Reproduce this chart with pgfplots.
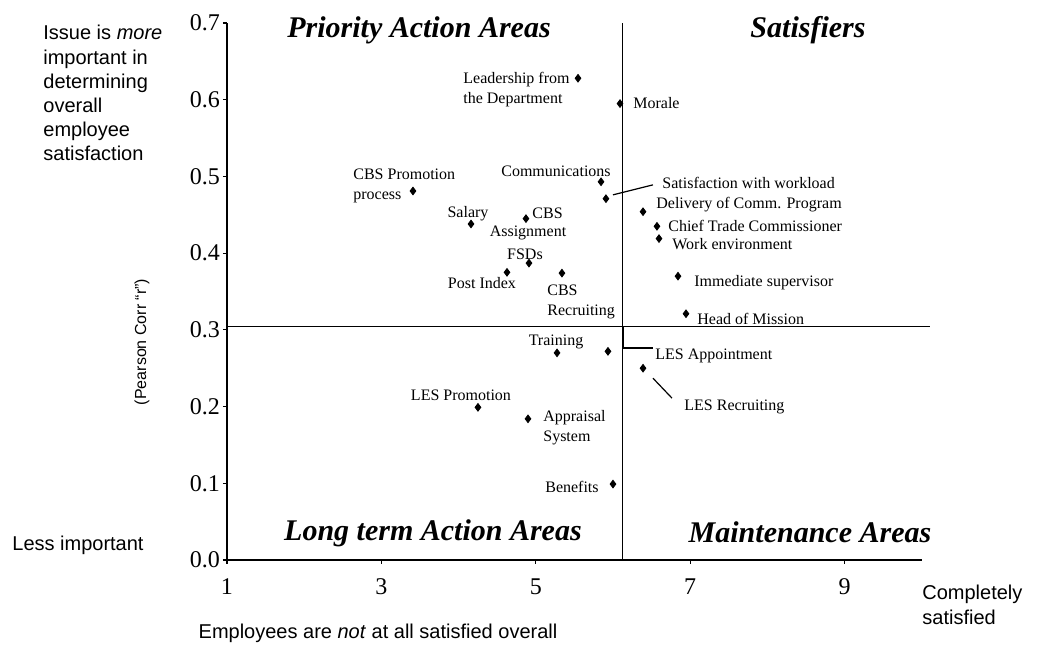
\documentclass[border=0pt]{standalone}
\usepackage{fontspec}
\setmainfont{Liberation Serif}
\newfontfamily\arial{Liberation Sans}
\usepackage{pgfplots}
\pgfplotsset{compat=1.18}
\begin{document}
\begin{tikzpicture}
\path[use as bounding box] (-113.5pt,-43pt) rectangle (406pt,280pt);
\begin{axis}[
  at={(0,0)}, anchor=south west,
  scale only axis, width=347.4pt, height=268.5pt,
  xmin=1, xmax=10, ymin=0, ymax=0.7,
  axis x line*=bottom, axis y line*=left,
  axis line style={line width=0.9pt},
  xtick={1,3,5,7,9}, ytick={0,0.1,0.2,0.3,0.4,0.5,0.6,0.7},
  tick align=outside, major tick length=2pt,
  tick style={line width=0.6pt, black},
  yticklabel style={/pgf/number format/fixed, /pgf/number format/precision=1, /pgf/number format/fixed zerofill, xshift=2pt},
  /pgf/number format/assume math mode=true,
  ticklabel style={font=\fontsize{12}{14}\selectfont},
  xticklabel style={yshift=-4pt},
  clip=false,
  label style={font=\arial},
]
% dividers
\addplot[black, line width=0.7pt] coordinates {(6.12,0) (6.12,0.7)};
\addplot[black, line width=0.7pt] coordinates {(1,0.304) (10.1,0.304)};
% leader lines
\addplot[black, line width=0.6pt] coordinates {(6.0,0.476) (6.518,0.489)};
\addplot[black, line width=0.6pt] coordinates {(6.135,0.304) (6.135,0.2764) (6.518,0.2764)};
\addplot[black, line width=0.6pt] coordinates {(6.518,0.237) (6.764,0.211)};
% points
\addplot[only marks, mark=diamond*, mark size=1.9pt, black] coordinates {
(5.547,0.628) (6.091,0.595) (3.409,0.481) (5.845,0.493) (5.909,0.471)
(6.389,0.454) (6.570,0.435) (6.596,0.419) (6.842,0.370) (6.946,0.321)
(4.873,0.445) (4.912,0.387) (4.627,0.375) (4.161,0.438) (5.339,0.374)
(5.275,0.270) (5.935,0.272) (6.389,0.250) (4.251,0.199) (4.899,0.184)
(6.000,0.099)
};
% quadrant titles
\begin{scope}[every node/.style={font=\fontsize{15}{18}\selectfont\bfseries\itshape, inner sep=0pt}]
\node at (axis cs:3.487,0.691) {Priority Action Areas};
\node at (axis cs:8.526,0.691) {Satisfiers};
\node at (axis cs:3.668,0.0352) {Long term Action Areas};
\node at (axis cs:8.552,0.0365) {Maintenance Areas};
\end{scope}
% point labels
\begin{scope}[every node/.style={font=\fontsize{8}{10}\selectfont, inner sep=0pt}]
\node[anchor=west, align=left] at (axis cs:4.057,0.613) {Leadership from\\the Department};
\node[anchor=west] at (axis cs:6.259,0.596) {Morale};
\node[anchor=west, align=left] at (axis cs:2.632,0.487) {CBS Promotion\\process};
\node at (axis cs:5.262,0.507) {Communications};
\node[anchor=west] at (axis cs:6.635,0.4915) {Satisfaction with workload};
\node[anchor=west] at (axis cs:6.557,0.463) {Delivery of Comm. Program};
\node[anchor=west] at (axis cs:6.712,0.436) {Chief Trade Commissioner};
\node[anchor=west] at (axis cs:6.764,0.412) {Work environment};
\node[anchor=west] at (axis cs:7.049,0.361) {Immediate supervisor};
\node[anchor=west] at (axis cs:7.088,0.314) {Head of Mission};
\node at (axis cs:4.122,0.452) {Salary};
\node[anchor=west] at (axis cs:4.951,0.452) {CBS};
\node at (axis cs:4.899,0.426) {Assignment};
\node at (axis cs:4.860,0.399) {FSDs};
\node at (axis cs:4.303,0.361) {Post Index};
\node[anchor=west, align=left] at (axis cs:5.145,0.336) {CBS\\Recruiting};
\node at (axis cs:5.262,0.284) {Training};
\node[anchor=west] at (axis cs:6.544,0.266) {LES Appointment};
\node[anchor=west] at (axis cs:6.92,0.1995) {LES Recruiting};
\node at (axis cs:4.031,0.215) {LES Promotion};
\node[anchor=west, align=left] at (axis cs:5.093,0.173) {Appraisal\\System};
\node at (axis cs:5.469,0.095) {Benefits};
\end{scope}
\end{axis}
% outside texts
\node[anchor=north west, align=left, inner sep=0pt, font=\arial\fontsize{10}{12.1}\selectfont] at (-92pt,267.5pt)
  {Issue is \textit{more}\\important in\\determining\\overall\\employee\\satisfaction};
\node[anchor=west, inner sep=0pt, font=\arial\fontsize{10}{12}\selectfont] at (-107.5pt,7.5pt) {Less important};
\node[rotate=90, inner sep=0pt, font=\arial\fontsize{8}{10}\selectfont] at (-42.5pt,109pt) {(Pearson Corr “r”)};
\node[inner sep=0pt, font=\arial\fontsize{10}{12}\selectfont] at (75.5pt,-36.5pt) {Employees are \textit{not} at all satisfied overall};
\node[anchor=north west, align=left, inner sep=0pt, font=\arial\fontsize{10}{12.5}\selectfont] at (347.5pt,-12.5pt) {Completely\\satisfied};
\end{tikzpicture}
\end{document}
